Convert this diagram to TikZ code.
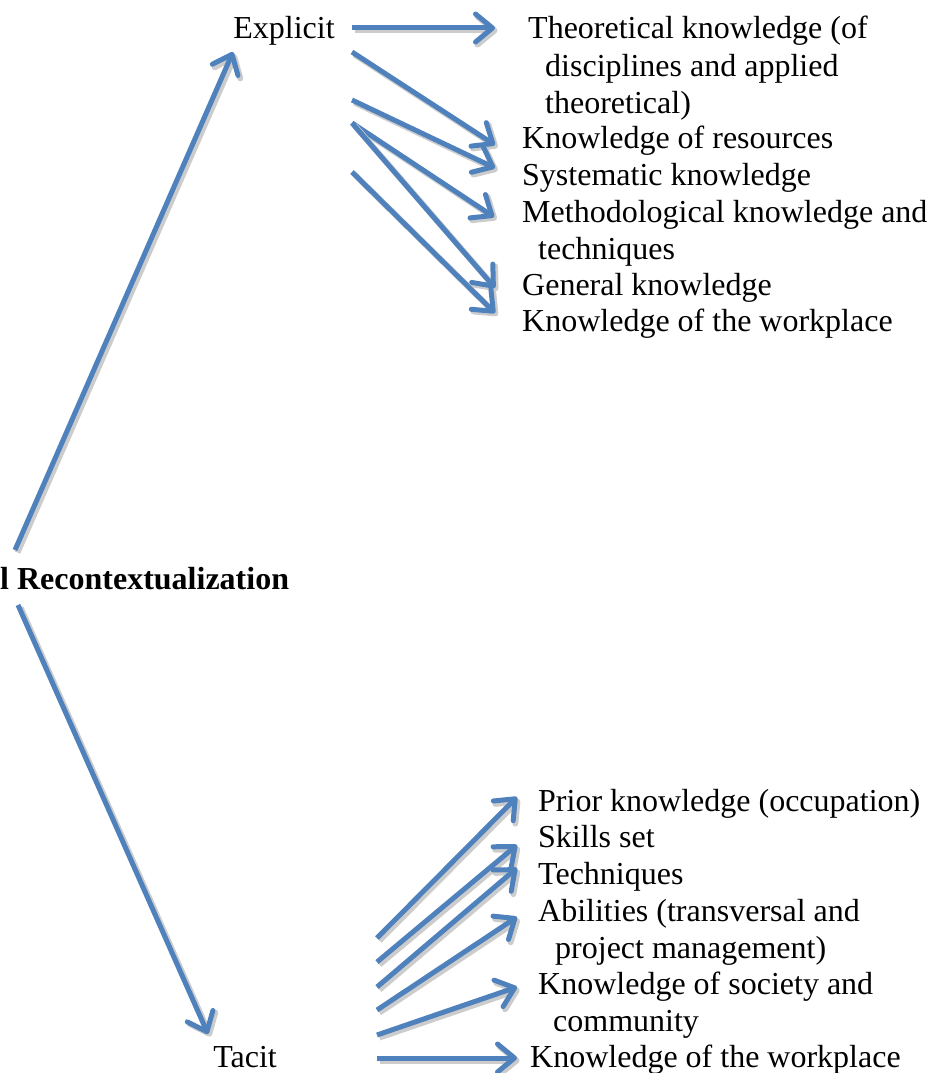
\documentclass[tikz,border=0pt]{standalone}
\usepackage{fontspec}
\setmainfont{Liberation Serif}
\usetikzlibrary{arrows.meta}
\definecolor{arrowblue}{HTML}{4F81BD}
\begin{document}
\begin{tikzpicture}[x=1pt,y=-1pt,
  lbl/.style={anchor=base west,inner sep=0pt,align=left,
    font=\fontsize{32}{37}\selectfont},
  link/.style={draw=arrowblue,line width=5pt,
    -{Straight Barb[length=17pt,width=28pt,round]},
    preaction={draw=black!20,line width=6pt,
      transform canvas={shift={(2.5,2.5)}}}}]
\useasboundingbox (0,0) rectangle (933,1073);

% centre label and the two branches
% (multi-line labels are placed by the baseline of their last line)
\node[lbl,font=\fontsize{32}{37}\selectfont\bfseries] (root) at (0,589) {l Recontextualization};
\node[lbl,anchor=base] (explicit) at (284,39) {Explicit};
\node[lbl,anchor=base] (tacit) at (245,1067) {Tacit};

\coordinate (rootN) at (15,550);
\coordinate (rootS) at (18,605);
\coordinate (explicitIn) at (233,52);
\coordinate (tacitIn) at (208,1034);
\draw[link] (rootN) -- (explicitIn);
\draw[link] (rootS) -- (tacitIn);

% explicit knowledge
\node[lbl] (theo) at (528,113) {Theoretical knowledge (of\\\hspace*{17pt}disciplines and applied\\\hspace*{17pt}theoretical)};
\node[lbl] (res) at (522,148) {Knowledge of resources};
\node[lbl] (sys) at (522,185) {Systematic knowledge};
\node[lbl] (meth) at (522,259) {Methodological knowledge and\\\hspace*{16pt}techniques};
\node[lbl] (gen) at (522,295) {General knowledge};
\node[lbl] (workE) at (522,331) {Knowledge of the workplace};

\coordinate (e1) at (352,28);
\coordinate (e2) at (352,52);
\coordinate (e3) at (352,100);
\coordinate (e4) at (352,123);
\coordinate (e5) at (352,172);
\coordinate (t1) at (495,28);
\coordinate (t2) at (495,145);
\coordinate (t3) at (495,168);
\coordinate (t4) at (494,217);
\coordinate (t5) at (495,288);
\coordinate (t6) at (495,313);
\draw[link] (e1) -- (t1);
\draw[link] (e2) -- (t2);
\draw[link] (e3) -- (t3);
\draw[link] (e4) -- (t4);
\draw[link] (e4) -- (t5);
\draw[link] (e5) -- (t6);

% tacit knowledge
\node[lbl] (prior) at (538,811) {Prior knowledge (occupation)};
\node[lbl] (skills) at (538,847) {Skills set};
\node[lbl] (tech) at (538,884) {Techniques};
\node[lbl] (abil) at (538,958) {Abilities (transversal and\\\hspace*{17pt}project management)};
\node[lbl] (soc) at (538,1031) {Knowledge of society and\\\hspace*{15pt}community};
\node[lbl] (workT) at (530,1067) {Knowledge of the workplace};

\coordinate (s1) at (377,938);
\coordinate (s2) at (377,962);
\coordinate (s3) at (377,987);
\coordinate (s4) at (377,1010);
\coordinate (s5) at (377,1035);
\coordinate (s6) at (377,1058);
\coordinate (u1) at (517,797);
\coordinate (u2) at (517,845);
\coordinate (u3) at (517,868);
\coordinate (u4) at (517,917);
\coordinate (u5) at (517,987);
\coordinate (u6) at (517,1058);
\draw[link] (s1) -- (u1);
\draw[link] (s2) -- (u2);
\draw[link] (s3) -- (u3);
\draw[link] (s4) -- (u4);
\draw[link] (s5) -- (u5);
\draw[link] (s6) -- (u6);
\end{tikzpicture}
\end{document}
